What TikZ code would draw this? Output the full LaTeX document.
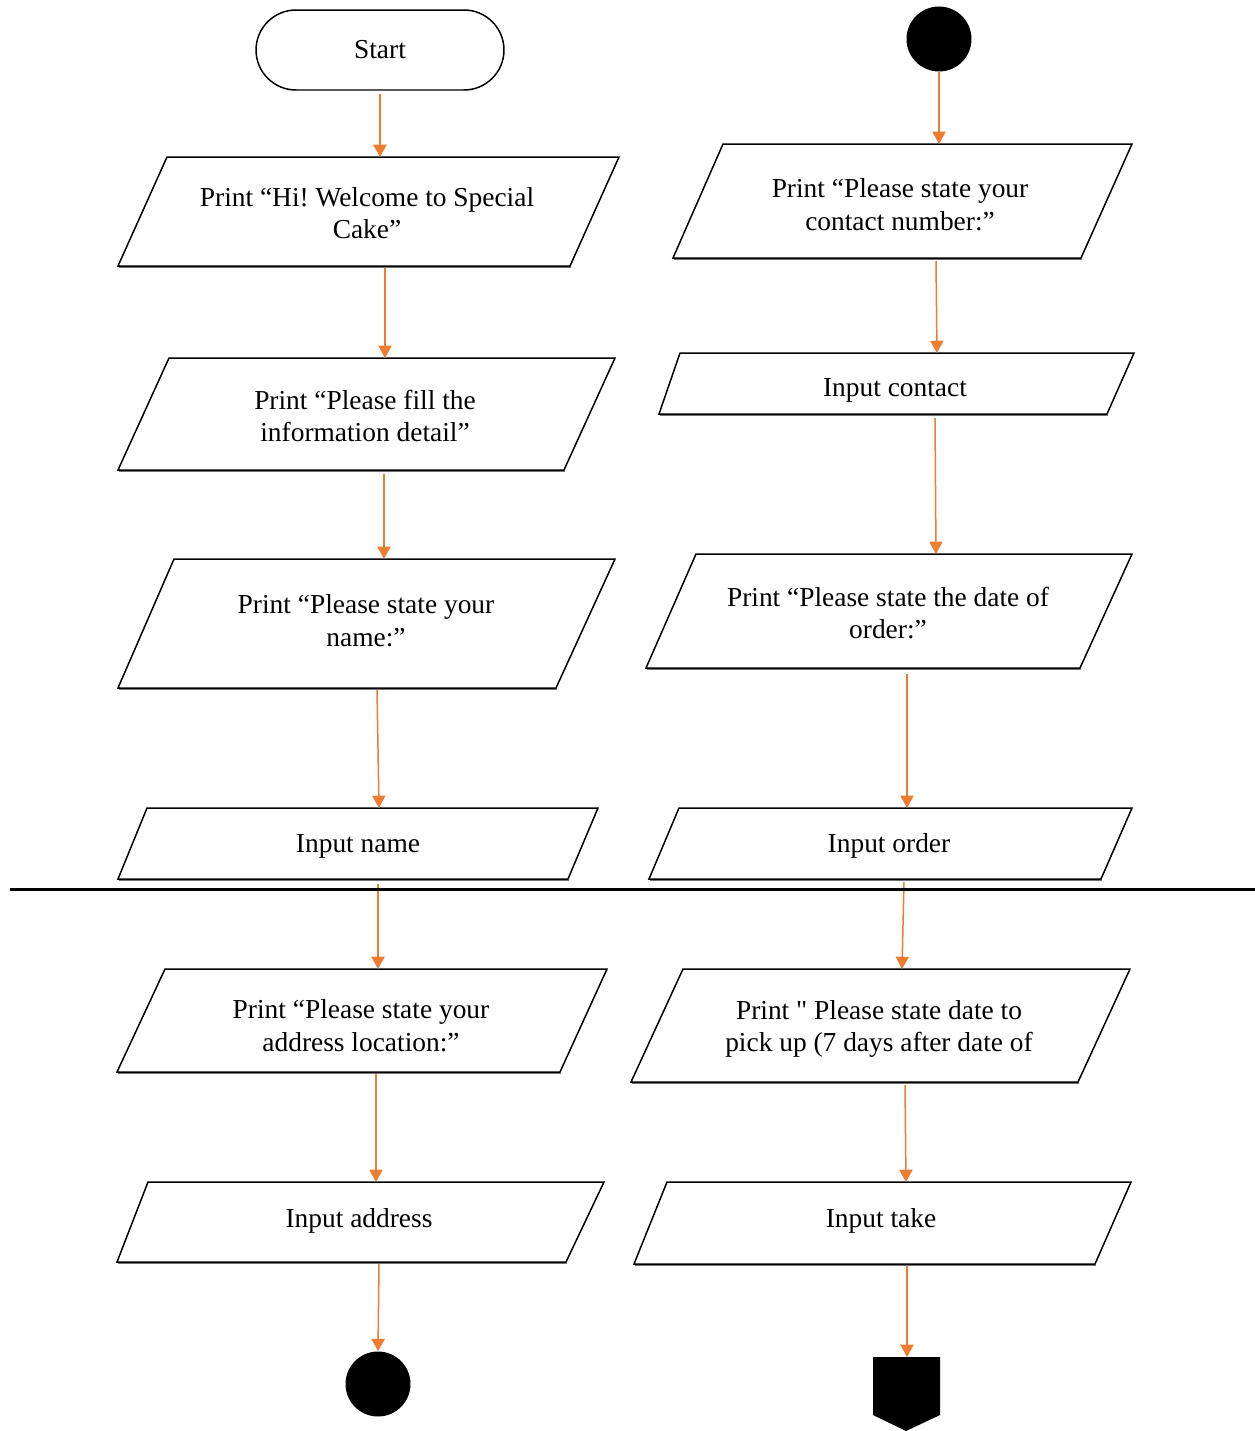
\documentclass[tikz,border=0pt]{standalone}
\usepackage{fontspec}
\setmainfont{Liberation Serif}[Ligatures=TeXOff]
\usetikzlibrary{arrows.meta}
\definecolor{flowc}{HTML}{ED7D31}
\tikzset{
  box/.style={draw=black, line width=0.85pt, fill=white},
  boxshade/.style={draw=black!55, line width=0.9pt},
  txt/.style={align=center, font=\fontsize{15.6}{18.6}\selectfont, inner sep=0pt},
  flow/.style={draw=flowc, line width=0.85pt, -{Triangle[width=7.5pt,length=7pt]}},
  conn/.style={circle, fill=black, draw=none, inner sep=0pt, minimum size=1.3cm},
}
% parallelogram: name, top-left x, top-right x, top y, bottom-left x, bottom-right x, bottom y
\newcommand\pgram[7]{%
  \path[boxshade] (#5+1,#7+1.6) -- (#6+1,#7+1.6);
  \path[box] (#2,#4) -- (#3,#4) -- (#6,#7) -- (#5,#7) -- cycle;
  \coordinate (#1) at ({(#2+#3+#5+#6)/4},{(#4+#7)/2});}
\begin{document}
\frenchspacing
\begin{tikzpicture}[x=0.02cm,y=-0.02cm]
\useasboundingbox (0,0) rectangle (1255,1431);

% ---------- left column ----------
\node[draw, line width=0.85pt, rounded corners=0.8cm, minimum width=4.96cm,
      minimum height=1.6cm, font=\fontsize{15.6}{18.6}\selectfont] (start) at (380,50) {Start};

\pgram{L1}{167}{619}{157}{118}{570}{266}
\node[txt] (l1) at (367,213) {Print “Hi! Welcome to Special\\Cake”};
\pgram{L2}{169}{615}{358}{118}{564}{470}
\node[txt] (l2) at (365,416) {Print “Please fill the\\information detail”};
\pgram{L3}{174}{615}{559}{118}{556}{688}
\node[txt] (l3) at (366,621) {Print “Please state your\\name:”};
\pgram{L4}{147}{598}{808}{118}{568}{879}
\node[txt] (l4) at (358,846) {Input name};
\pgram{L5}{165}{607}{969}{117}{560}{1072}
\node[txt] (l5) at (361,1026) {Print “Please state your\\address location:”};
\pgram{L6}{148}{604}{1182}{117}{566}{1262}
\node[txt] (l6) at (359,1221) {Input address};
\node[conn] (lend) at (378,1384) {};

% connector end points, left column
\coordinate (a1s) at (385,268);  \coordinate (a1e) at (385,358);
\coordinate (a0e) at (380,157);
\coordinate (a2s) at (384,474);  \coordinate (a2e) at (384,559);
\coordinate (a3s) at (377,690);  \coordinate (a3e) at (379,808);
\coordinate (a4s) at (378,884);  \coordinate (a4e) at (378,969);
\coordinate (a5s) at (376,1074); \coordinate (a5e) at (376,1182);
\coordinate (a6s) at (379,1264);

\draw[flow] ([yshift=-0.06cm]start.south) -- (a0e);
\draw[flow] (a1s) -- (a1e);
\draw[flow] (a2s) -- (a2e);
\draw[flow] (a3s) -- (a3e);
\draw[flow] (a4s) -- (a4e);
\draw[flow] (a5s) -- (a5e);
\draw[flow] (a6s) -- (lend.north);

% ---------- right column ----------
\node[conn] (rstart) at (939,39) {};
\pgram{R1}{723}{1132}{144}{673}{1081}{258}
\node[txt] (r1) at (900,205) {Print “Please state your\\contact number:”};
\pgram{R2}{680}{1134}{353}{659}{1107}{414}
\node[txt] (r2) at (895,390) {Input contact};
\pgram{R3}{696}{1132}{554}{646}{1080}{668}
\node[txt] (r3) at (888,613) {Print “Please state the date of\\order:”};
\pgram{R4}{679}{1132}{808}{649}{1101}{879}
\node[txt] (r4) at (889,846) {Input order};
\pgram{R5}{683}{1130}{969}{631}{1078}{1082}
\node[txt] (r5) at (879,1029) {Print " Please state date to\\pick up (7 days after date of};
\pgram{R6}{667}{1131}{1182}{634}{1095}{1264}
\node[txt] (r6) at (881,1221) {Input take};
% off-page connector
\path[fill=black] (873,1357) -- (940,1357) -- (940,1415) -- (906,1431) -- (873,1415) -- cycle;
\coordinate (rend) at (907,1357);

% connector end points, right column
\coordinate (b0e) at (939,144);
\coordinate (b1s) at (936,261);  \coordinate (b1e) at (937,353);
\coordinate (b2s) at (935,418);  \coordinate (b2e) at (936,554);
\coordinate (b3s) at (907,674);  \coordinate (b3e) at (907,808);
\coordinate (b4s) at (904,882);  \coordinate (b4e) at (902,969);
\coordinate (b5s) at (905,1085); \coordinate (b5e) at (906,1182);
\coordinate (b6s) at (907,1266);

\draw[flow] (rstart.south) -- (b0e);
\draw[flow] (b1s) -- (b1e);
\draw[flow] (b2s) -- (b2e);
\draw[flow] (b3s) -- (b3e);
\draw[flow] (b4s) -- (b4e);
\draw[flow] (b5s) -- (b5e);
\draw[flow] (b6s) -- (rend);

% page separator
\coordinate (sepL) at (10,889);
\coordinate (sepR) at (1255,889);
\draw[line width=1.7pt] (sepL) -- (sepR);
\end{tikzpicture}
\end{document}
